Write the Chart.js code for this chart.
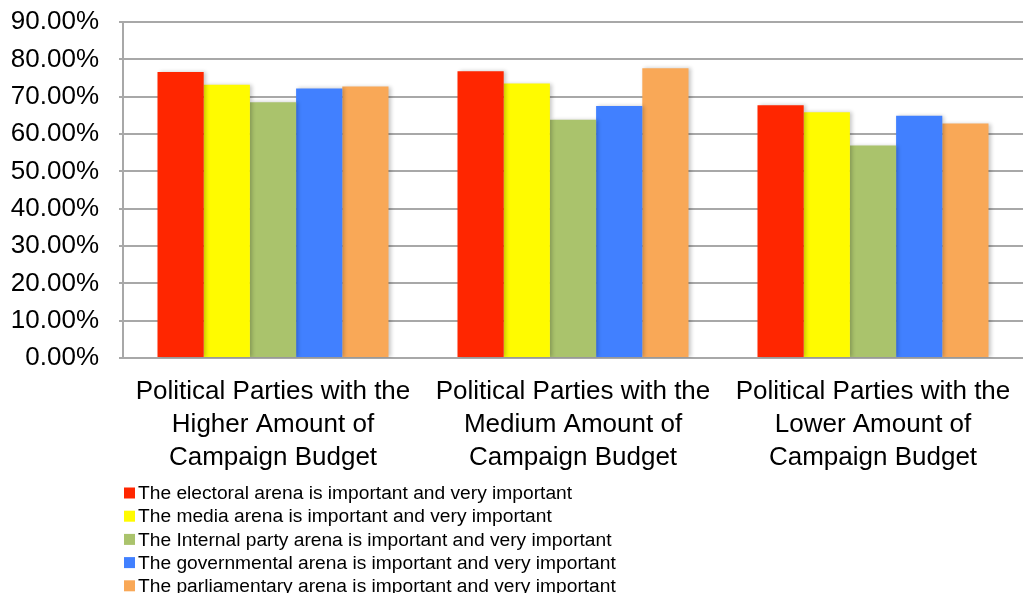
<!DOCTYPE html>
<html>
<head>
<meta charset="utf-8">
<script src="https://cdn.jsdelivr.net/npm/chart.js@4/dist/chart.umd.min.js"></script>
<style>
  html, body { margin: 0; padding: 0; background: #fff; }
  #wrap { width: 1023px; height: 593px; position: relative; overflow: hidden; }
</style>
</head>
<body>
<div id="wrap"><canvas id="c" width="1023" height="593"></canvas></div>
<script>
// Budget groups (x-axis categories, one array entry per label line)
const categories = [
  ["Political Parties with the", "Higher Amount of", "Campaign Budget"],
  ["Political Parties with the", "Medium Amount of", "Campaign Budget"],
  ["Political Parties with the", "Lower Amount of", "Campaign Budget"]
];

// Series names
const seriesNames = [
  "The electoral arena is important and very important",
  "The media arena is important and very important",
  "The Internal party arena is important and very important",
  "The governmental arena is important and very important",
  "The parliamentary arena is important and very important"
];

// Share of parties (%) per arena, per budget group
const electoral     = [76.6, 76.8, 67.7];
const media         = [73.2, 73.5, 65.8];
const internalParty = [68.5, 63.8, 56.9];
const governmental  = [72.2, 67.5, 64.9];
const parliamentary = [72.7, 77.6, 62.8];

// Y-axis ticks (%)
const yTicks = [0, 10, 20, 30, 40, 50, 60, 70, 80, 90];

const seriesValues = [electoral, media, internalParty, governmental, parliamentary];
const seriesColors = ["#FF2600", "#FFFB00", "#AAC36C", "#4180FF", "#F9A857"];

const FONT = "'Liberation Sans', Arial, Helvetica, sans-serif";
const PLOT_TOP = 22;
const PLOT_BOTTOM = 358;

// Soft drop shadow behind bars
const barShadow = {
  id: 'barShadow',
  beforeDatasetsDraw(chart) {
    const ctx = chart.ctx;
    ctx.save();
    ctx.shadowColor = 'rgba(0,0,0,0.22)';
    ctx.shadowBlur = 4;
    ctx.shadowOffsetX = 2;
    ctx.shadowOffsetY = 0;
  },
  afterDatasetsDraw(chart) {
    chart.ctx.restore();
  }
};

// Vertical legend list under the x labels
const listLegend = {
  id: 'listLegend',
  afterDraw(chart) {
    const ctx = chart.ctx;
    ctx.save();
    ctx.font = "19.2px " + FONT;
    ctx.textBaseline = 'middle';
    ctx.textAlign = 'left';
    chart.data.datasets.forEach((ds, i) => {
      const cy = 493 + i * 23.2;
      ctx.fillStyle = ds.backgroundColor;
      ctx.fillRect(124, cy - 5.5, 11, 11);
      ctx.fillStyle = '#000';
      ctx.fillText(ds.label, 138, cy + 1);
    });
    ctx.restore();
  }
};

new Chart(document.getElementById('c'), {
  type: 'bar',
  data: {
    labels: categories,
    datasets: seriesNames.map((name, i) => ({
      label: name,
      data: seriesValues[i],
      backgroundColor: seriesColors[i],
      borderWidth: 0,
      categoryPercentage: 0.77,
      barPercentage: 1.0
    }))
  },
  options: {
    responsive: false,
    animation: false,
    layout: { padding: { top: PLOT_TOP, right: 0, bottom: 0, left: 0 } },
    plugins: {
      legend: { display: false },
      tooltip: { enabled: false }
    },
    scales: {
      x: {
        grid: { display: false, drawTicks: false },
        border: { display: true, color: '#a8a8a8', width: 2 },
        ticks: {
          color: '#000',
          font: { family: FONT, size: 26, lineHeight: 1.27 },
          padding: 17,
          maxRotation: 0,
          autoSkip: false
        },
        afterFit(scale) {
          scale.height = 593 - PLOT_BOTTOM;
          scale.paddingLeft = 0;
          scale.paddingRight = 0;
        }
      },
      y: {
        min: 0,
        max: 90,
        afterBuildTicks(scale) { scale.ticks = yTicks.map(v => ({ value: v })); },
        grid: { color: '#a8a8a8', lineWidth: 2, drawTicks: true, tickLength: 4 },
        border: { display: true, color: '#a8a8a8', width: 2 },
        ticks: {
          color: '#000',
          font: { family: FONT, size: 26 },
          padding: 20,
          callback: v => v.toFixed(2) + '%'
        },
        afterFit(scale) {
          scale.width = 123;
          scale.paddingTop = 0;
          scale.paddingBottom = 0;
        }
      }
    }
  },
  plugins: [barShadow, listLegend]
});
</script>
</body>
</html>
